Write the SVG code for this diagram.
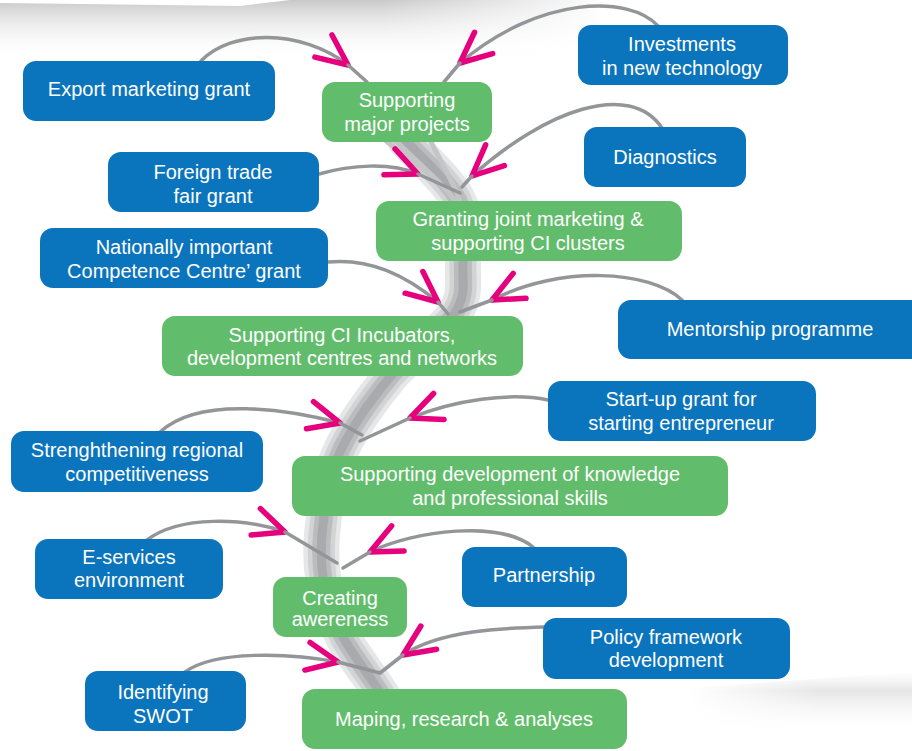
<svg xmlns="http://www.w3.org/2000/svg" width="912" height="751" viewBox="0 0 912 751">
<style>
.blue{fill:#0a74bd}
.green{fill:#61bd6b}
.t{font-family:"Liberation Sans",Arial,sans-serif;font-size:20px;fill:#ffffff;text-anchor:middle}
.ln{fill:none;stroke:#949598;stroke-width:3.5;stroke-linecap:round}
.vine{fill:none;stroke-linecap:round}
</style>
<defs>
<marker id="chev" markerUnits="userSpaceOnUse" markerWidth="50" markerHeight="50" viewBox="-40 -25 50 50" refX="0" refY="0" orient="auto" overflow="visible">
<path d="M-31,-14 L0,0 L-31,14" fill="none" stroke="#e6007e" stroke-width="5.5" stroke-linecap="round" stroke-linejoin="round"/>
</marker>
<linearGradient id="topShade" x1="0" y1="0" x2="0" y2="1">
<stop offset="0" stop-color="#c9c9ca"/>
<stop offset="1" stop-color="#ffffff" stop-opacity="0"/>
</linearGradient>
<linearGradient id="fadeR" x1="0" y1="0" x2="1" y2="0">
<stop offset="0" stop-color="#ffffff" stop-opacity="0"/>
<stop offset="1" stop-color="#ffffff" stop-opacity="1"/>
</linearGradient>
<linearGradient id="brShade" x1="0" y1="0" x2="0" y2="1">
<stop offset="0" stop-color="#ececed" stop-opacity="0"/>
<stop offset="0.3" stop-color="#e6e6e7"/>
<stop offset="1" stop-color="#ffffff" stop-opacity="0"/>
</linearGradient>
<linearGradient id="brFadeL" x1="0" y1="0" x2="1" y2="0">
<stop offset="0" stop-color="#ffffff" stop-opacity="1"/>
<stop offset="1" stop-color="#ffffff" stop-opacity="0"/>
</linearGradient>
</defs>

<g id="background">
<path d="M0,3 L240,6 L290,0 L600,0 L600,60 L0,60 Z" fill="url(#topShade)"/>
<rect x="380" y="0" width="230" height="60" fill="url(#fadeR)"/>
<path d="M690,688 L912,672 L912,735 L690,725 Z" fill="url(#brShade)"/>
<rect x="690" y="665" width="130" height="75" fill="url(#brFadeL)"/>
</g>

<g id="vine">
<path class="vine" d="M405,140 C414,150 448,180 458,200 C468,220 464,243 463,262 C462,281 467,294 455,313 C443,332 409,354 390,377 C371,400 352,427 341,450 C330,473 327,496 324,517 C321,538 320,557 323,577 C326,597 334,618 343,637 C353,656 374,681 385,700" stroke="#e6e7e8" stroke-width="36"/>
<path class="vine" d="M405,140 C414,150 448,180 458,200 C468,220 464,243 463,262 C462,281 467,294 455,313 C443,332 409,354 390,377 C371,400 352,427 341,450 C330,473 327,496 324,517 C321,538 320,557 323,577 C326,597 334,618 343,637 C353,656 374,681 385,700" stroke="#d2d3d5" stroke-width="27"/>
<path class="vine" d="M405,140 C414,150 448,180 458,200 C468,220 464,243 463,262 C462,281 467,294 455,313 C443,332 409,354 390,377 C371,400 352,427 341,450 C330,473 327,496 324,517 C321,538 320,557 323,577 C326,597 334,618 343,637 C353,656 374,681 385,700" stroke="#bbbcbe" stroke-width="18"/>
<path class="vine" d="M405,140 C414,150 448,180 458,200 C468,220 464,243 463,262 C462,281 467,294 455,313 C443,332 409,354 390,377 C371,400 352,427 341,450 C330,473 327,496 324,517 C321,538 320,557 323,577 C326,597 334,618 343,637 C353,656 374,681 385,700" stroke="#a9aaad" stroke-width="9"/>
<path d="M385,140 C410,160 440,180 455,200 M395,140 C420,165 445,185 458,205 M430,140 C440,160 452,180 462,205" fill="none" stroke="#c4c5c7" stroke-width="5"/>
</g>

<g id="connectors">
<path class="ln" d="M201,61 C230,30 300,28 348,65" marker-end="url(#chev)"/>
<path class="ln" d="M348,65 L367,82"/>
<path class="ln" d="M658,26 C630,-5 540,-5 460,63" marker-end="url(#chev)"/>
<path class="ln" d="M460,63 L444,82"/>
<path class="ln" d="M319,174 C350,165 390,162 418,174" marker-end="url(#chev)"/>
<path class="ln" d="M418,174 L460,193"/>
<path class="ln" d="M662,128 C630,80 545,110 472,176" marker-end="url(#chev)"/>
<path class="ln" d="M472,176 L462,187"/>
<path class="ln" d="M328,262 C370,258 405,275 438,302" marker-end="url(#chev)"/>
<path class="ln" d="M438,302 L448,314"/>
<path class="ln" d="M682,300 C650,270 560,265 492,300" marker-end="url(#chev)"/>
<path class="ln" d="M492,300 L460,312"/>
<path class="ln" d="M160,432 C200,395 290,410 340,423" marker-end="url(#chev)"/>
<path class="ln" d="M340,423 L362,435"/>
<path class="ln" d="M548,400 C510,392 455,400 410,418" marker-end="url(#chev)"/>
<path class="ln" d="M410,418 L360,441"/>
<path class="ln" d="M147,540 C180,515 245,518 285,532" marker-end="url(#chev)"/>
<path class="ln" d="M285,532 L337,563"/>
<path class="ln" d="M533,547 C500,520 415,530 370,552" marker-end="url(#chev)"/>
<path class="ln" d="M370,552 L343,568"/>
<path class="ln" d="M185,672 C215,650 290,653 338,662" marker-end="url(#chev)"/>
<path class="ln" d="M338,662 L380,673"/>
<path class="ln" d="M545,627 C505,628 440,630 403,655" marker-end="url(#chev)"/>
<path class="ln" d="M403,655 L380,673"/>
</g>

<g id="n-export"><rect class="blue" x="23" y="61" width="252" height="60" rx="13"/><text class="t" x="149" y="96">Export marketing grant</text></g>
<g id="n-invest"><rect class="blue" x="578" y="25" width="210" height="60" rx="13"/><text class="t" x="682" y="51">Investments</text><text class="t" x="682" y="75">in new technology</text></g>
<g id="n-major"><rect class="green" x="322" y="82" width="170" height="60" rx="13"/><text class="t" x="407" y="107">Supporting</text><text class="t" x="407" y="131">major projects</text></g>
<g id="n-diag"><rect class="blue" x="584" y="127" width="162" height="60" rx="13"/><text class="t" x="665" y="164">Diagnostics</text></g>
<g id="n-foreign"><rect class="blue" x="108" y="152" width="211" height="60" rx="13"/><text class="t" x="213" y="179">Foreign trade</text><text class="t" x="213" y="203">fair grant</text></g>
<g id="n-granting"><rect class="green" x="376" y="201" width="306" height="60" rx="13"/><text class="t" x="528" y="226">Granting joint marketing &amp;</text><text class="t" x="528" y="250">supporting CI clusters</text></g>
<g id="n-national"><rect class="blue" x="40" y="228" width="288" height="60" rx="13"/><text class="t" x="184" y="254">Nationally important</text><text class="t" x="184" y="278">Competence Centre’ grant</text></g>
<g id="n-mentor"><rect class="blue" x="618" y="300" width="320" height="59" rx="13"/><text class="t" x="770" y="336">Mentorship programme</text></g>
<g id="n-incub"><rect class="green" x="162" y="316" width="361" height="60" rx="13"/><text class="t" x="342" y="342">Supporting CI Incubators,</text><text class="t" x="342" y="365">development centres and networks</text></g>
<g id="n-startup"><rect class="blue" x="548" y="381" width="268" height="60" rx="13"/><text class="t" x="681" y="406">Start-up grant for</text><text class="t" x="681" y="430">starting entrepreneur</text></g>
<g id="n-strength"><rect class="blue" x="11" y="431" width="252" height="61" rx="13"/><text class="t" x="137" y="457">Strenghthening regional</text><text class="t" x="137" y="481">competitiveness</text></g>
<g id="n-knowledge"><rect class="green" x="292" y="456" width="436" height="60" rx="13"/><text class="t" x="510" y="481">Supporting development of knowledge</text><text class="t" x="510" y="505">and professional skills</text></g>
<g id="n-eserv"><rect class="blue" x="35" y="539" width="188" height="60" rx="13"/><text class="t" x="129" y="564">E-services</text><text class="t" x="129" y="587">environment</text></g>
<g id="n-partner"><rect class="blue" x="462" y="547" width="165" height="60" rx="13"/><text class="t" x="544" y="582">Partnership</text></g>
<g id="n-aware"><rect class="green" x="273" y="577" width="134" height="60" rx="13"/><text class="t" x="340" y="605">Creating</text><text class="t" x="340" y="626">awereness</text></g>
<g id="n-policy"><rect class="blue" x="543" y="618" width="247" height="61" rx="13"/><text class="t" x="666" y="644">Policy framework</text><text class="t" x="666" y="667">development</text></g>
<g id="n-swot"><rect class="blue" x="85" y="671" width="161" height="60" rx="13"/><text class="t" x="163" y="699">Identifying</text><text class="t" x="163" y="723">SWOT</text></g>
<g id="n-maping"><rect class="green" x="302" y="689" width="325" height="60" rx="13"/><text class="t" x="464" y="726">Maping, research &amp; analyses</text></g>
</svg>
